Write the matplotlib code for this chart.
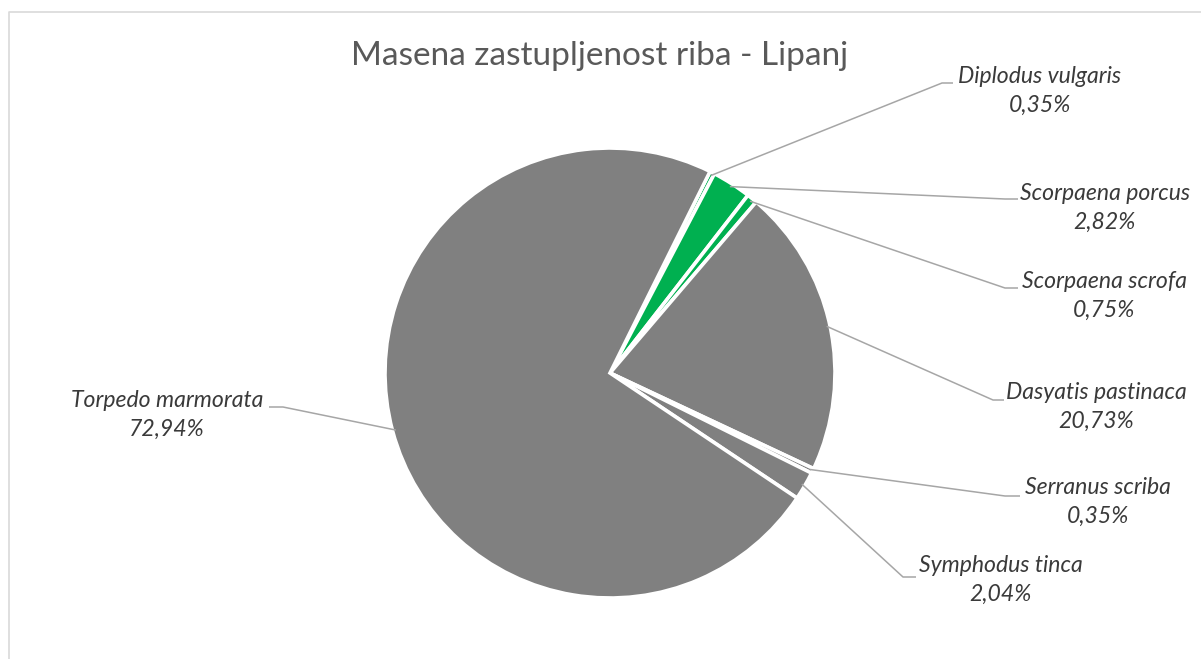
"""Pie chart: mass share of fish species, June."""

import numpy as np
import matplotlib

matplotlib.use("Agg")

import matplotlib.pyplot as plt

species = [
    "Diplodus vulgaris",
    "Scorpaena porcus",
    "Scorpaena scrofa",
    "Dasyatis pastinaca",
    "Serranus scriba",
    "Symphodus tinca",
    "Torpedo marmorata",
]
shares = [0.35, 2.82, 0.75, 20.73, 0.35, 2.04, 72.94]
colors = ["#00B050", "#00B050", "#00B050", "#808080", "#808080", "#808080", "#808080"]

# label layout in pixel coords (top-left origin): text centre, leader elbow, leader end
label_xy = [(1040, 91), (1105, 208), (1104, 296), (1096, 407), (1098, 502), (1001, 580), (167, 415)]
elbow_xy = [(942, 83), (1005, 199), (1005, 288), (993, 400), (1005, 496), (903, 577), (283, 407)]
end_xy = [(953, 83), (1018, 199), (1018, 288), (1004, 400), (1020, 496), (916, 577), (269, 407)]

W, H = 1201, 659
center_px = (610, 373)
radius_px = 225

fig = plt.figure(figsize=(W / 100, H / 100), dpi=100)
ax = fig.add_axes([0, 0, 1, 1])
ax.set_xlim(0, W)
ax.set_ylim(0, H)
ax.set_aspect("equal")
ax.axis("off")

cx, cy = center_px[0], H - center_px[1]
wedges, _ = ax.pie(
    shares,
    colors=colors,
    startangle=63.6,
    counterclock=False,
    center=(cx, cy),
    radius=radius_px,
    wedgeprops={"edgecolor": "white", "linewidth": 2.6},
)
ax.set_xlim(0, W)
ax.set_ylim(0, H)

for wedge, name, pct, (tx, ty), (ex, ey), (lx, ly) in zip(
    wedges, species, shares, label_xy, elbow_xy, end_xy
):
    mid = np.deg2rad((wedge.theta1 + wedge.theta2) / 2)
    ax_pt = (cx + radius_px * 0.985 * np.cos(mid), cy + radius_px * 0.985 * np.sin(mid))
    ax.plot(
        [ax_pt[0], ex, lx],
        [ax_pt[1], H - ey, H - ly],
        color="#A6A6A6",
        linewidth=1.1,
        solid_capstyle="butt",
    )
    label = f"{name}\n{pct:.2f}%".replace(".", ",")
    ax.text(
        tx,
        H - ty,
        label,
        ha="center",
        va="center",
        fontsize=16.6,
        family="Lato",
        style="italic",
        color="#3A3A3A",
        linespacing=1.48,
    )

ax.text(
    600,
    H - 56,
    "Masena zastupljenost riba - Lipanj",
    ha="center",
    va="center",
    fontsize=24,
    family="Lato",
    color="#595959",
)

# chart frame (only left and top edges are visible in the crop)
ax.plot([8.5, 8.5, W], [0, H - 11.5, H - 11.5], color="#D9D9D9", linewidth=1.2)

fig.savefig("out.png", dpi=100, facecolor="white")
plt.close(fig)
